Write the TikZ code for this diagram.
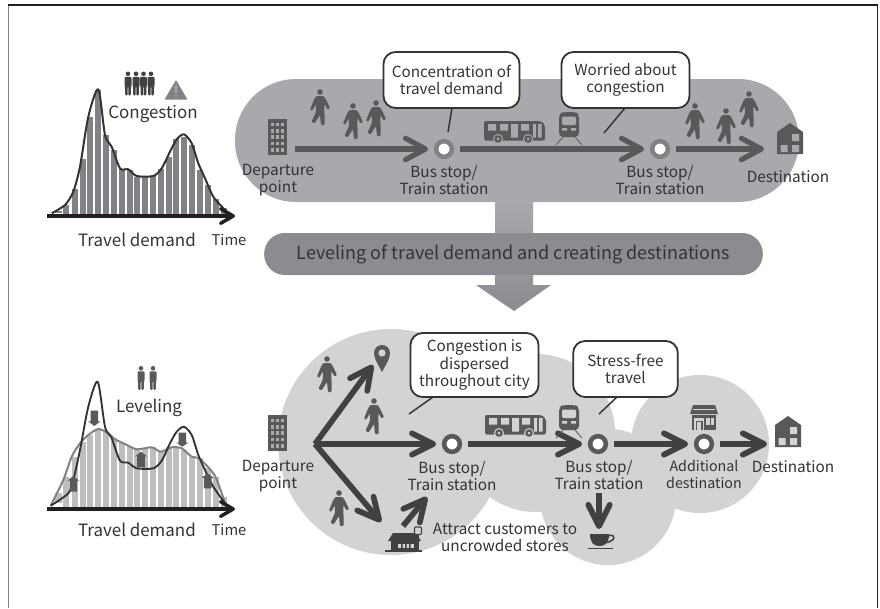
\documentclass[tikz,border=0pt]{standalone}
\usepackage{fontspec}
\setmainfont{Noto Sans CJK JP}
\usetikzlibrary{arrows.meta,shadings}
\definecolor{ink}{HTML}{333335}
\definecolor{icon}{HTML}{58595B}
\definecolor{pill}{HTML}{A7A9AC}
\definecolor{midg}{HTML}{808285}
\definecolor{band}{HTML}{8A8C8F}
\definecolor{blob}{HTML}{D1D3D4}
\definecolor{barlt}{HTML}{BCBEC0}
\definecolor{heavy}{HTML}{414042}
\definecolor{axis}{HTML}{231F20}
\tikzset{
  x=0.75pt,y=-0.75pt,
  lbl/.style={align=center,inner sep=0pt,text=ink,font=\fontsize{11.5}{12.8}\selectfont},
  lblbig/.style={lbl,font=\fontsize{12.7}{13}\selectfont},
  lblnarrow/.style={lbl,font=\fontsize{10.7}{12.6}\selectfont},
  small/.style={lbl,font=\fontsize{11.1}{12}\selectfont},
  bubble/.style={draw=ink,fill=white,line width=1.35pt,rounded corners=9pt,align=center,inner sep=0pt,text=ink,font=\fontsize{11.45}{12.9}\selectfont},
  tailline/.style={draw=ink,line width=1.1pt},
  flowa/.style={draw=icon,line width=3.9pt,-{Straight Barb[round,length=15pt,width=16pt]}},
  flowb/.style={draw=heavy,line width=4.3pt,-{Straight Barb[round,length=16pt,width=16pt]}},
  stopa/.style={circle,draw=midg,fill=white,line width=3.4pt,minimum size=11.8pt,inner sep=0pt,outer sep=6pt},
  stopb/.style={circle,draw=icon,fill=white,line width=3.4pt,minimum size=11.8pt,inner sep=0pt,outer sep=6pt},
  axisline/.style={draw=axis,line width=2.6pt,-{Straight Barb[round,length=9.5pt,width=11pt]}},
  pics/walker/.style={code={
    \fill[icon] (0,0) circle[radius=2.8];
    \fill[icon,rounded corners=0.7pt] (-3.5,4) -- (3.5,4) -- (5.5,6.5) -- (10,16) -- (7.6,17.5) -- (4.4,12) -- (4.6,33) -- (1,33) -- (0,23) -- (-5.5,31.5) -- (-8.5,29.5) -- (-4.2,20.5) -- (-4,12) -- (-8,19) -- (-10,17.5) -- (-5.5,6.5) -- cycle;
  }},
  pics/stander/.style={code={
    \fill[#1] (0,2.3) circle[radius=2.3];
    \fill[#1,rounded corners=0.8pt] (-3.5,5.4) -- (3.5,5.4) -- (3.5,15) -- (2.8,15) -- (2.8,24) -- (0.35,24) -- (0.35,15) -- (-0.35,15) -- (-0.35,24) -- (-2.8,24) -- (-2.8,15) -- (-3.5,15) -- cycle;
  }},
  pics/tower/.style={code={
    \fill[icon] (0,0) rectangle (19,36);
    \foreach \i in {0,1,2,3,4} \foreach \j in {0,1,2}
      \fill[pill] (3+\j*4.8,3.5+\i*6.4) rectangle +(3,3.6);
  }},
  pics/house/.style={code={
    \fill[icon] (0,9) -- (13,0) -- (26,9) -- (26,31) -- (0,31) -- cycle;
    \fill[#1] (15,11) rectangle +(7,7) (3.5,22) rectangle +(7,7) (15,22) rectangle +(7,7);
  }},
  pics/bus/.style={code={
    \fill[icon,rounded corners=1.5pt] (0,0) -- (57,0) -- (61,4) -- (61,19.5) -- (0,19.5) -- cycle;
    \fill[#1] (4,3) rectangle (12,9.5) (16,3) rectangle (24,9.5) (27,3) rectangle (34,16.5) (37,3) rectangle (45,9.5) (49,3) rectangle (52,16.5) (54,3) rectangle (57.5,16.5);
    \foreach \c in {14,44}{
      \fill[#1] (\c,18) circle[radius=5];
      \fill[icon] (\c,18) circle[radius=3.8];
      \fill[#1] (\c,18) circle[radius=1.5];
    }
  }},
  pics/trainicon/.style={code={
    \fill[icon,rounded corners=3pt] (0,2) -- (4,0) -- (16,0) -- (20,2) -- (20,25) -- (0,25) -- cycle;
    \fill[#1,rounded corners=1pt] (3,4.5) rectangle (17,13);
    \fill[#1] (3,16) rectangle (8,18.5) (12,16) rectangle (17,18.5);
    \draw[icon,line width=0.6pt] (4,25) -- (-3,33) (16,25) -- (23,33);
  }}
}
\begin{document}
\begin{tikzpicture}
\useasboundingbox (0,0) rectangle (880,608);
\fill[white] (0,0) rectangle (880,608);
% frame
\draw[midg,line width=1pt] (8.5,5) -- (8.5,608);
\draw[axis,line width=0.8pt] (8,5) -- (877.5,5) -- (877.5,608);

% top pill and central arrow
\fill[pill,rounded corners=45.7pt] (235,79) rectangle (799,202);
\shade[top color=pill,bottom color=band,shading angle=0] (495,202) -- (533,202) -- (533,285) -- (551,285) -- (514,311) -- (476,285) -- (495,285) -- cycle;
\node[fill=band,rounded corners=15.5pt,minimum width=374pt,minimum height=31.5pt,inner sep=0pt,text=ink,font=\fontsize{13.5}{14}\selectfont] (bandtext) at (513.5,254) {Leveling of travel demand and creating destinations};

% top chart
\foreach \z/\t in {100/375,125/328,150/238,172/110,195/30,220/165,243/210,267/268,290/270,313/290,337/288,360/288,383/268,407/232,430/178,453/172,477/195,502/270,525/315,548/358,572/385}{
  \fill[midg] ({30+\z/3},{80+\t/3}) rectangle ({30+\z/3+6},216);
}
\fill[midg] (55,211) rectangle (62,213);
\draw[ink,line width=1.5pt,line join=round] plot[smooth,tension=0.45] coordinates {(51.7,213.3)(65,205)(73.3,191.7)(80,166.7)(88.3,116.7)(98.3,89.3)(105,135)(111.7,146.7)(120,168.3)(128.3,169.3)(136.7,176)(153.3,176)(161.7,168.3)(170,151.7)(176.7,139.3)(184,134.3)(191.7,143.3)(198.3,163.3)(205,178.3)(213.3,196.7)(225,210)};
\coordinate (axA0) at (47,216); \coordinate (axA1) at (235,216);
\draw[axisline] (axA0) -- (axA1);
\foreach \c in {128,136,143.5,151} \pic at (\c,71.5) {stander=heavy};
\fill[midg,rounded corners=0.6pt] (176,80) -- (187.5,99.5) -- (164.5,99.5) -- cycle;
\fill[pill] (174.9,85.5) -- (177.1,85.5) -- (176.7,93) -- (175.3,93) -- cycle (176,95.7) circle[radius=1.2];
\node[lblbig] (congestion) at (153,114) {Congestion};
\node[lblbig] (demandA) at (137,240) {Travel demand};
\node[small] (timeA) at (229,240) {Time};

% top flow
\pic at (268,119) {tower};
\coordinate (depA) at (295,149);
\node[stopa] (stopA) at (444,149) {};
\node[stopa] (stopB) at (660,149) {};
\coordinate (destA) at (764,149);
\draw[flowa] (depA) -- (stopA);
\draw[flowa] (stopA) -- (stopB);
\draw[flowa] (stopB) -- (destA);
\pic at (777,123) {house=pill};
\pic at (484,121) {bus=pill};
\pic at (559,112) {trainicon=pill};
\foreach \a/\b in {320/92,353/106,376/103,695/106,726/111,749/94} \pic at (\a,\b) {walker};
\node[lbl] (depAl) at (278,180) {Departure\\point};
\node[lbl] (stopAl) at (444,180) {Bus stop/\\Train station};
\node[lbl] (stopBl) at (660,180) {Bus stop/\\Train station};
\node[lbl] (destAl) at (788,177) {Destination};
% top callouts
\coordinate (tailA) at (448,132);
\coordinate (tailB) at (604,133);
\node[bubble,minimum width=102pt,minimum height=42pt] (callA) at (451.5,80) {Concentration of\\travel demand};
\node[bubble,minimum width=96pt,minimum height=42pt] (callB) at (625.5,80) {Worried about\\congestion};
\draw[tailline] (452,108) -- (tailA);
\draw[tailline] (625,108) -- (tailB);

% bottom blobs
\fill[blob] (391,442) circle[radius=113] (536,433) circle[radius=79] (608,497) circle[radius=68] (700,444) circle[radius=69];

% bottom chart
\foreach \z/\t in {125/350,150/305,172/285,195/268,220/275,243/295,267/310,290/318,313/328,337/325,360/322,383/335,407/322,430/320,453/330,477/352,502/355,525/385,548/410,572/470,100/410}{
  \fill[barlt] ({30+\z/3},{340+\t/3}) rectangle ({30+\z/3+6},509);
}
\fill[barlt] (55,493) rectangle (62,503);
\draw[midg,line width=1.5pt,line join=round] plot[smooth,tension=0.45] coordinates {(50.7,505.7)(63.3,480)(71.7,456.7)(80,443.3)(88.3,435)(98.3,429)(108.3,433.3)(115,439.3)(125,444)(136.7,449.3)(151.7,447.3)(160.7,451.7)(171.7,447.3)(181.7,448.3)(191.7,456.7)(200,459)(215,476)(225,503.3)};
\draw[ink,line width=1.4pt,line join=round] plot[smooth,tension=0.45] coordinates {(50.7,505.7)(68.3,493.3)(73.3,480)(80,450)(88.3,406.7)(97.7,381.7)(105,426.7)(111.7,438.3)(120,460.7)(128.3,462.7)(136.7,468.3)(153.3,468.3)(161.7,460.7)(170,443.3)(176.7,431.7)(184,426.7)(191.7,435)(198.3,455)(205,470)(213.3,486.7)(225,503.3)};
\foreach \xx/\ya/\yb in {94.3/410.7/426,73.3/491.7/476,141/467.3/451.7,182.3/432.7/446.7,207.7/488.3/473.3}{
  \fill[icon] ({\xx-3.8},\ya) -- ({\xx+3.8},\ya) -- ({\xx+3.8},{\yb-(\yb-\ya)*0.3}) -- ({\xx+6},{\yb-(\yb-\ya)*0.3}) -- (\xx,\yb) -- ({\xx-6},{\yb-(\yb-\ya)*0.3}) -- ({\xx-3.8},{\yb-(\yb-\ya)*0.3}) -- cycle;
}
\coordinate (axB0) at (47,509); \coordinate (axB1) at (235,509);
\draw[axisline] (axB0) -- (axB1);
\foreach \c in {141,153} \pic at (\c,366) {stander=icon};
\node[lblbig] (leveling) at (149,408) {Leveling};
\node[lblbig] (demandB) at (137,530) {Travel demand};
\node[small] (timeB) at (229,530) {Time};

% bottom flow
\pic at (268,415) {tower};
\coordinate (hub) at (315,444);
\coordinate (pinPt) at (373,365);
\coordinate (storePt) at (381,522);
\coordinate (storeOut) at (403,526);
\coordinate (storeTip) at (427,497);
\coordinate (cupTop) at (599,493);
\coordinate (cupTip) at (599,529);
\coordinate (destB) at (767,444);
\node[stopb] (stopC) at (452,444) {};
\node[stopb] (stopD) at (598,444) {};
\node[stopb] (stopE) at (704,444) {};
\draw[flowb] (hub) -- (pinPt);
\draw[flowb] (hub) -- (storePt);
\draw[flowb] (hub) -- (stopC);
\draw[flowb] (stopC) -- (stopD);
\draw[flowb] (stopD) -- (stopE);
\draw[flowb] (stopE) -- (destB);
\draw[flowb] (storeOut) -- (storeTip);
\draw[flowb] (cupTop) -- (cupTip);
% pin
\fill[icon] (382,372) .. controls (378,364) and (374,359) .. (374,353) .. controls (374,348) and (378,345) .. (382,345) .. controls (386,345) and (390,348) .. (390,353) .. controls (390,359) and (386,364) .. (382,372) -- cycle;
\fill[blob] (382,353) circle[radius=3.6];
% store
\fill[heavy] (388,541) -- (393,533) -- (416,533) -- (421,541) -- cycle;
\fill[heavy] (391,541) rectangle (419,550);
\fill[blob] (398,544) rectangle (414,548);
\fill[heavy] (401,544) rectangle (402.5,548) (405,544) rectangle (406.5,548) (409,544) rectangle (410.5,548);
\fill[heavy] (385,550) rectangle (422,552);
\draw[heavy,line width=0.8pt] (418,535) -- (418,551);
\draw[heavy,line width=0.8pt,fill=blob,rounded corners=0.8pt] (414.5,527) rectangle (421.5,534.5);
% cup
\fill[heavy] (590,534) -- (609,534) .. controls (609,543) and (605,546) .. (599.5,546) .. controls (594,546) and (590,543) .. (590,534) -- cycle;
\draw[heavy,line width=1.2pt] (609,535.5) .. controls (616,534) and (616,541) .. (606,542.5);
\draw[heavy,line width=1.2pt] (587.5,548.5) -- (612.5,548.5);
% shop
\fill[icon] (693,405) -- (715,405) -- (718,414) -- (690,414) -- cycle;
\fill[blob] (693,409) rectangle (715,410);
\fill[icon] (692,415) rectangle (716,430);
\fill[blob] (694,417.5) rectangle (704,430);
\fill[icon] (695.5,420.5) rectangle (702.5,430);
\fill[blob] (697,422) rectangle (701,430);
\fill[blob] (706,417.5) rectangle (714,425);
\draw[icon,line width=0.5pt] (710,417.5) -- (710,425);
\pic at (775,416) {house=blob};
\pic at (485,415) {bus=blob};
\pic at (559,405) {trainicon=blob};
\foreach \a/\b in {327/359,374/401,339/493} \pic at (\a,\b) {walker};
\node[lbl] (depBl) at (278,476) {Departure\\point};
\node[lbl] (stopCl) at (452,476) {Bus stop/\\Train station};
\node[lbl] (stopDl) at (599,475) {Bus stop/\\Train station};
\node[lblnarrow] (stopEl) at (704,474.5) {Additional\\destination};
\node[lbl] (destBl) at (793,467) {Destination};
\node[lbl,font=\fontsize{11.5}{12.8}\selectfont] (attract) at (505,537.5) {Attract customers to\\uncrowded stores};
% bottom callouts
\coordinate (tailC) at (409,414);
\coordinate (tailD) at (599,414);
\node[bubble,minimum width=96pt,minimum height=48pt] (callC) at (474.5,365) {Congestion is\\dispersed\\throughout city};
\node[bubble,minimum width=78.5pt,minimum height=42pt] (callD) at (625.5,369) {Stress-free\\travel};
\draw[tailline] (433,397) -- (tailC);
\draw[tailline] (617,397) -- (tailD);
\end{tikzpicture}
\end{document}
